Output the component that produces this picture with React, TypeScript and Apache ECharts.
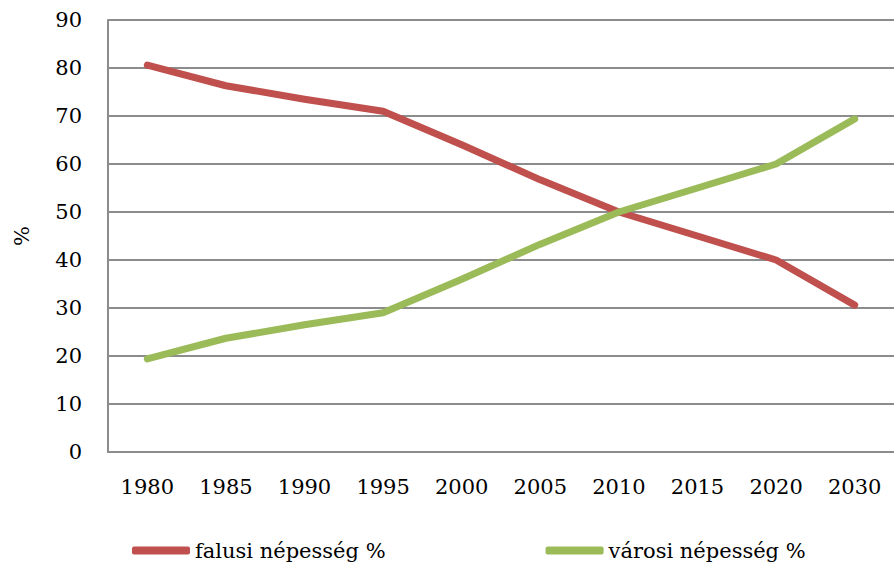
import React, { useEffect, useRef } from "react";
import * as echarts from "echarts";

const years = ["1980", "1985", "1990", "1995", "2000", "2005", "2010", "2015", "2020", "2030"];
const rural = [80.6, 76.3, 73.5, 71, 64, 56.7, 50, 45, 40, 30.6];
const urban = [19.4, 23.7, 26.5, 29, 36, 43.3, 50, 55, 60, 69.4];
const ruralName = "falusi népesség %";
const urbanName = "városi népesség %";

const FONT = "DejaVu Serif";

export default function App() {
  const ref = useRef<HTMLDivElement>(null);
  useEffect(() => {
    if (!ref.current) return;
    const chart = echarts.init(ref.current, undefined, { renderer: "svg" });
    chart.setOption({
      animation: false,
      backgroundColor: "#ffffff",
      textStyle: { fontFamily: FONT },
      grid: { left: 108, top: 20, width: 799, height: 432, containLabel: false },
      legend: {
        left: 127,
        top: 535,
        itemWidth: 58,
        itemHeight: 8,
        itemGap: 160,
        icon: "roundRect",
        textStyle: { fontFamily: FONT, fontSize: 21, color: "#000" },
        data: [ruralName, urbanName],
      },
      xAxis: {
        type: "category",
        data: years,
        boundaryGap: true,
        axisLine: { lineStyle: { color: "#8c8c8c", width: 2 } },
        axisTick: { show: false },
        axisLabel: { fontFamily: FONT, fontSize: 21, color: "#000", margin: 24 },
      },
      yAxis: {
        type: "value",
        min: 0,
        max: 90,
        interval: 10,
        name: "%",
        nameLocation: "middle",
        nameGap: 76,
        nameRotate: 90,
        nameTextStyle: { fontFamily: FONT, fontSize: 21, color: "#000" },
        axisLine: { show: true, lineStyle: { color: "#8c8c8c", width: 2 } },
        axisTick: { show: false },
        splitLine: { lineStyle: { color: "#8c8c8c", width: 2 } },
        axisLabel: { fontFamily: FONT, fontSize: 21, color: "#000", margin: 26 },
      },
      series: [
        {
          name: ruralName,
          type: "line",
          data: rural,
          showSymbol: false,
          symbol: "none",
          itemStyle: { color: "#C0504D" },
          lineStyle: { color: "#C0504D", width: 7, cap: "round", join: "round" },
        },
        {
          name: urbanName,
          type: "line",
          data: urban,
          showSymbol: false,
          symbol: "none",
          itemStyle: { color: "#9BBB59" },
          lineStyle: { color: "#9BBB59", width: 7, cap: "round", join: "round" },
        },
      ],
    });
    return () => chart.dispose();
  }, []);
  return (
    <div
      ref={ref}
      style={{ position: "fixed", left: 0, top: 0, width: 894, height: 565, overflow: "hidden", background: "#fff" }}
    />
  );
}
